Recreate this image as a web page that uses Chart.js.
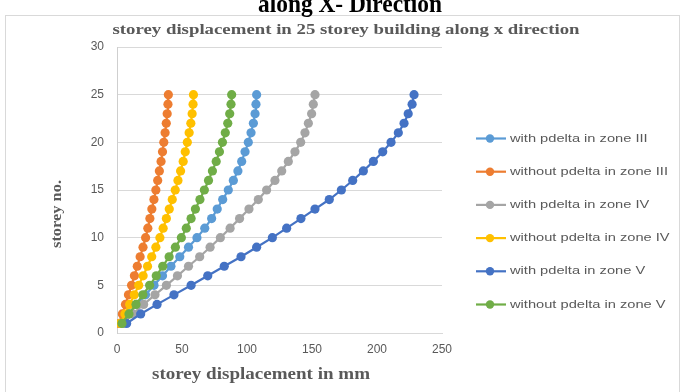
<!DOCTYPE html>
<html lang="en">
<head>
    <meta charset="UTF-8">
    <title>Storey displacement along x direction</title>
    <script src="https://cdn.jsdelivr.net/npm/chart.js@4"></script>
    <style>
        html, body { margin: 0; padding: 0; background: #fff; }
        #wrap { width: 681px; height: 392px; }
    </style>
</head>
<body>
    <div id="wrap"><canvas id="dispChart" width="681" height="392"></canvas></div>

    <script>
        // storey numbers (y) and displacement in mm (x)
        const storeys = [1, 2, 3, 4, 5, 6, 7, 8, 9, 10, 11, 12, 13, 14, 15, 16, 17, 18, 19, 20, 21, 22, 23, 24, 25];
        const withPdeltaIII = [3.7, 9.1, 15.4, 21.9, 28.5, 35.0, 41.5, 48.3, 55.0, 61.5, 67.5, 72.8, 77.1, 81.3, 85.6, 89.5, 93.0, 95.9, 98.5, 101.0, 103.1, 104.9, 106.2, 106.9, 107.4];
        const withoutPdeltaIII = [1.7, 4.1, 6.5, 8.8, 11.2, 13.4, 15.6, 17.8, 20.0, 22.0, 23.7, 25.3, 26.8, 28.4, 29.9, 31.3, 32.6, 33.9, 35.0, 36.0, 37.0, 37.9, 38.6, 39.2, 39.5];
        const withPdeltaIV = [4.9, 12.1, 20.5, 29.2, 38.0, 46.5, 55.0, 63.6, 71.6, 79.5, 87.0, 94.3, 101.5, 108.7, 115.1, 121.5, 126.7, 131.8, 136.9, 141.3, 144.6, 147.2, 149.7, 151.0, 152.3];
        const withoutPdeltaIV = [2.5, 6.1, 9.7, 13.3, 16.7, 20.1, 23.5, 26.7, 29.9, 33.0, 35.5, 38.0, 40.2, 42.5, 44.8, 46.9, 48.9, 50.9, 52.5, 54.1, 55.5, 56.8, 57.8, 58.5, 58.8];
        const withPdeltaV = [7.4, 18.2, 30.8, 43.8, 57.0, 69.8, 82.5, 95.4, 107.4, 119.5, 130.5, 141.5, 152.3, 163.3, 172.6, 181.3, 189.5, 197.2, 204.4, 210.8, 216.4, 220.8, 224.0, 227.0, 228.5];
        const withoutPdeltaV = [3.8, 9.2, 14.6, 19.9, 25.1, 30.2, 35.2, 40.1, 44.9, 49.5, 53.3, 57.0, 60.3, 63.8, 67.2, 70.4, 73.4, 76.3, 78.8, 81.1, 83.3, 85.2, 86.7, 87.7, 88.2];

        const seriesNames = ['with pdelta in zone III', 'without pdelta in zone III', 'with pdelta in zone IV',
            'without pdelta in zone IV', 'with pdelta in zone V', 'without pdelta in zone V'];
        const seriesValues = [withPdeltaIII, withoutPdeltaIII, withPdeltaIV, withoutPdeltaIV, withPdeltaV, withoutPdeltaV];
        const seriesColors = ['#5B9BD5', '#ED7D31', '#A5A5A5', '#FFC000', '#4472C4', '#70AD47'];

        const xTickValues = [0, 50, 100, 150, 200, 250];
        const yTickValues = [0, 5, 10, 15, 20, 25, 30];

        const pageHeading = 'along X- Direction';
        const chartTitle = 'storey displacement in 25 storey building along x direction';
        const xTitle = 'storey displacement in mm';
        const yTitle = 'storey no.';

        const textGrey = '#595959';

        // draws text squeezed/stretched to a given width (the source image is stretched sideways)
        function wideText(ctx, text, cx, cy, font, color, width, angle) {
            ctx.save();
            ctx.font = font;
            ctx.fillStyle = color;
            ctx.textAlign = 'center';
            ctx.textBaseline = 'middle';
            const sx = width / ctx.measureText(text).width;
            ctx.translate(cx, cy);
            if (angle) ctx.rotate(angle);
            ctx.scale(sx, 1);
            ctx.fillText(text, 0, 0);
            ctx.restore();
        }

        const decorations = {
            id: 'decorations',
            beforeDraw(chart) {
                const ctx = chart.ctx;
                ctx.save();
                ctx.fillStyle = '#fff';
                ctx.fillRect(0, 0, chart.width, chart.height);
                ctx.strokeStyle = '#d9d9d9';
                ctx.lineWidth = 1;
                ctx.strokeRect(5.5, 15.5, 674, 400);
                ctx.restore();
                // cut-off heading above the chart frame
                ctx.save();
                ctx.font = 'bold 26px "Liberation Serif"';
                ctx.fillStyle = '#000';
                ctx.textAlign = 'center';
                ctx.textBaseline = 'alphabetic';
                const sx = 184 / ctx.measureText(pageHeading).width;
                ctx.translate(350, 12);
                ctx.scale(sx, 1);
                ctx.fillText(pageHeading, 0, 0);
                ctx.restore();
            },
            afterDraw(chart) {
                const ctx = chart.ctx;
                wideText(ctx, chartTitle, 346, 30, 'bold 15px "Liberation Serif"', textGrey, 467);
                wideText(ctx, xTitle, 261, 375, 'bold 16px "Liberation Serif"', textGrey, 218);
                wideText(ctx, yTitle, 57, 214, 'bold 14px "Liberation Serif"', textGrey, 68, -Math.PI / 2);

                // legend
                ctx.save();
                ctx.font = '11px "Liberation Sans"';
                const sx = 158 / ctx.measureText(seriesNames[1]).width;
                seriesNames.forEach((name, i) => {
                    const y = 138.5 + i * 33.2;
                    ctx.strokeStyle = seriesColors[i];
                    ctx.lineWidth = 2.2;
                    ctx.beginPath();
                    ctx.moveTo(476, y);
                    ctx.lineTo(506, y);
                    ctx.stroke();
                    ctx.fillStyle = seriesColors[i];
                    ctx.beginPath();
                    ctx.arc(490, y, 4.2, 0, Math.PI * 2);
                    ctx.fill();
                    ctx.save();
                    ctx.fillStyle = textGrey;
                    ctx.textAlign = 'left';
                    ctx.textBaseline = 'middle';
                    ctx.translate(510, y);
                    ctx.scale(sx, 1);
                    ctx.fillText(name, 0, 0);
                    ctx.restore();
                });
                ctx.restore();
            }
        };

        const datasets = seriesNames.map((name, i) => ({
            label: name,
            data: storeys.map((s, k) => ({ x: seriesValues[i][k], y: s })),
            showLine: true,
            borderColor: seriesColors[i],
            backgroundColor: seriesColors[i],
            borderWidth: 2.2,
            pointRadius: 4.6,
            pointBorderWidth: 0,
            pointHoverRadius: 4.6,
            order: seriesNames.length - i
        }));

        new Chart(document.getElementById('dispChart'), {
            type: 'scatter',
            data: { datasets },
            options: {
                responsive: false,
                animation: false,
                events: [],
                layout: { padding: { top: 47, right: 239, left: 0, bottom: 0 } },
                plugins: {
                    legend: { display: false },
                    title: { display: false },
                    tooltip: { enabled: false }
                },
                scales: {
                    x: {
                        type: 'linear',
                        min: 0,
                        max: 250,
                        afterBuildTicks: s => { s.ticks = xTickValues.map(v => ({ value: v })); },
                        afterFit: s => { s.height = 59; },
                        grid: { display: false, drawTicks: false },
                        border: { display: true, color: '#d9d9d9', width: 1 },
                        ticks: { padding: 9, color: textGrey, font: { family: 'Liberation Sans', size: 12 } }
                    },
                    y: {
                        type: 'linear',
                        min: 0,
                        max: 30,
                        afterBuildTicks: s => { s.ticks = yTickValues.map(v => ({ value: v })); },
                        afterFit: s => { s.width = 117; },
                        grid: { color: '#d9d9d9', drawTicks: false },
                        border: { display: true, color: '#cfcfcf', width: 1 },
                        ticks: { padding: 13, color: textGrey, font: { family: 'Liberation Sans', size: 12 } }
                    }
                }
            },
            plugins: [decorations]
        });
    </script>
</body>
</html>
